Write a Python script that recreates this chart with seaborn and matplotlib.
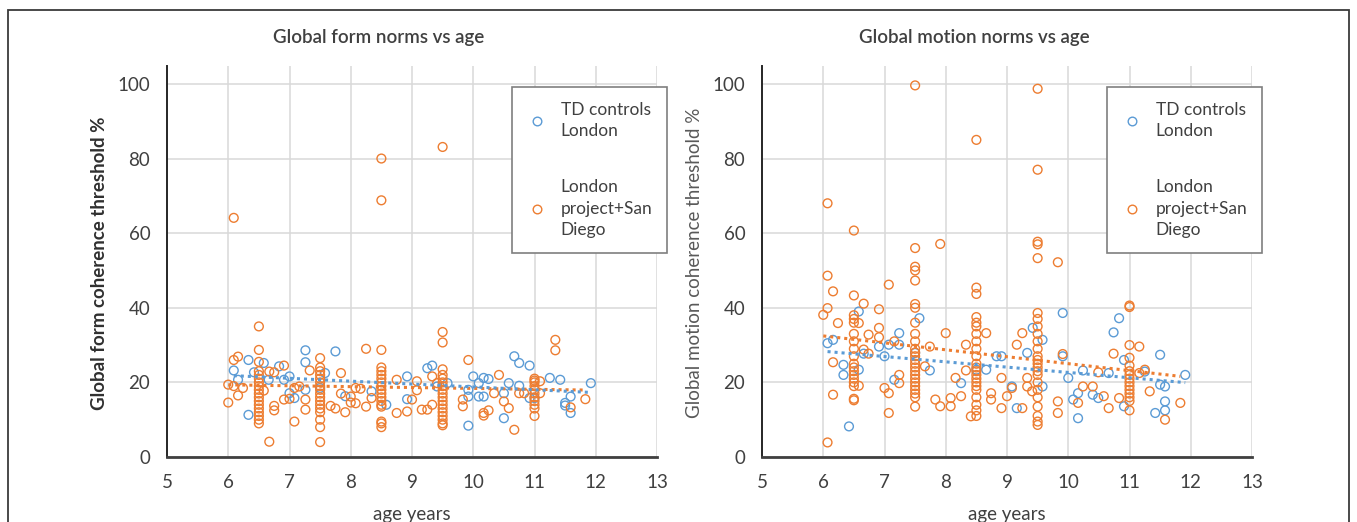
import numpy as np
import pandas as pd
import matplotlib
matplotlib.use("Agg")
import matplotlib.pyplot as plt
from matplotlib.lines import Line2D
from matplotlib.patches import Rectangle
import seaborn as sns

# ---------------- data ----------------
form_td_age = [6.09, 6.16, 6.33, 6.33, 6.42, 6.58, 6.66, 6.83, 6.91, 7.0, 7.0, 7.08, 7.26, 7.26, 7.26,
               7.5, 7.58, 7.75, 7.91, 8.34, 8.58, 8.92, 8.92, 9.25, 9.33, 9.41, 9.58, 9.92, 9.92, 9.92,
               10.0, 10.09, 10.09, 10.17, 10.17, 10.25, 10.5, 10.5, 10.58, 10.67, 10.75, 10.75, 10.92,
               10.92, 11.0, 11.25, 11.42, 11.5, 11.5, 11.59, 11.59, 11.92]
form_td_val = [23.2, 20.7, 26.0, 11.3, 22.7, 25.2, 20.7, 24.3, 20.7, 21.6, 17.1, 15.8, 28.6, 25.4, 18.0,
               18.5, 22.5, 28.3, 16.3, 17.6, 14.0, 21.6, 15.5, 23.8, 24.5, 18.9, 19.8, 8.4, 16.2, 18.0,
               21.6, 16.2, 19.8, 21.2, 16.2, 20.9, 10.4, 17.1, 19.8, 27.0, 25.2, 19.1, 24.5,
               15.8, 15.8, 21.2, 20.7, 14.5, 13.8, 16.2, 11.8, 19.8]

form_ld_age = ([6.09, 8.5, 8.5, 9.5]
               + [6.5] * 18
               + [6.0, 6.09, 6.16, 6.09, 6.16, 6.0, 6.24]
               + [6.67, 6.75, 6.75, 6.67, 6.75, 6.58, 6.91, 6.91, 7.0, 7.08, 7.08, 7.26, 7.26, 7.33, 7.16]
               + [7.5] * 17
               + [7.67, 7.75, 7.84, 7.84, 7.91, 8.0, 8.08, 8.16, 8.25, 8.25, 8.34, 8.0, 8.08]
               + [8.5] * 16
               + [8.75, 8.75, 8.92, 9.0, 9.08, 9.16, 9.25, 9.33, 9.33, 9.41, 9.08]
               + [9.5] * 18
               + [9.83, 9.83, 9.92, 10.17, 10.17, 10.25, 10.34, 10.42, 10.5, 10.58, 10.67, 10.75, 10.83]
               + [11.0] * 11
               + [11.09, 11.09, 11.34, 11.34, 11.59, 11.83])
form_ld_val = ([64.1, 80.0, 68.8, 83.1]
               + [35, 28.7, 25.5, 23, 22, 21, 20, 19, 18, 17, 16, 15, 14, 13, 12, 11, 10, 9]
               + [14.6, 26.0, 26.9, 19.0, 16.5, 19.4, 18.5]
               + [4.1, 13.7, 12.5, 22.9, 22.7, 17.8, 24.5, 15.4, 15.6, 9.5, 18.5, 12.7, 15.4, 23.2, 18.9]
               + [26.5, 24, 23, 22, 21, 20, 19, 18, 17, 16, 15, 14, 13, 12, 10, 8, 4]
               + [13.7, 13.0, 22.5, 17.0, 12.0, 14.6, 18.5, 18.3, 29.0, 13.5, 15.8, 16.2, 14.4]
               + [28.7, 24, 23, 22, 21, 20, 19, 18, 17, 16, 15, 14, 13.5, 9.5, 9, 8]
               + [20.7, 11.8, 12.2, 15.4, 20.3, 12.7, 12.7, 21.6, 14.0, 19.8, 17.9]
               + [33.5, 30.7, 23.5, 22, 21, 20, 19, 18, 17, 16, 15, 14, 13, 12, 11, 10, 9, 8.5]
               + [13.6, 15.4, 26.0, 11.8, 11.1, 12.5, 17.1, 22.0, 14.9, 13.1, 7.3, 17.1, 17.1]
               + [21, 20.5, 20, 19, 18, 17, 16, 15, 14, 13, 11]
               + [17.1, 20.3, 31.4, 28.6, 13.3, 15.5])

motion_td_age = [6.07, 6.16, 6.33, 6.33, 6.42, 6.58, 6.58, 6.66, 6.91, 7.0, 7.07, 7.16, 7.24, 7.24,
                 7.5, 7.57, 7.74, 8.25, 8.5, 8.66, 8.83, 8.91, 9.08, 9.16, 9.33, 9.42, 9.58, 9.58,
                 9.91, 9.91, 10.0, 10.08, 10.16, 10.16, 10.24, 10.4, 10.49, 10.66, 10.74, 10.83,
                 10.91, 10.91, 11.25, 11.5, 11.5, 11.58, 11.58, 11.58, 11.42, 11.91]
motion_td_val = [30.5, 31.4, 24.7, 22.0, 8.2, 39.0, 23.4, 27.7, 29.6, 27.0, 30.1, 20.7, 33.2, 30.1,
                 27.9, 37.2, 23.2, 19.8, 23.4, 23.4, 27.0, 27.0, 18.9, 13.1, 27.9, 34.6, 31.4, 18.9,
                 38.6, 27.0, 21.2, 15.4, 17.1, 10.4, 23.2, 16.7, 15.8, 22.5, 33.4, 37.2,
                 13.6, 26.0, 22.9, 27.4, 19.4, 18.9, 14.9, 12.5, 11.8, 22.0]

motion_ld_age = ([6.0, 6.07, 6.07, 6.07, 6.07, 6.16, 6.16, 6.24, 6.16]
                 + [6.5] * 18
                 + [6.58, 6.58, 6.66, 6.66, 6.74, 6.74, 6.91, 6.91, 6.91, 7.0, 7.07, 7.07, 7.07, 7.16, 7.24, 7.24]
                 + [7.5] * 25
                 + [7.66, 7.74, 7.83, 7.91, 7.91, 8.0, 8.08, 8.08, 8.16, 8.25, 8.33, 8.33, 8.41]
                 + [8.5] * 22
                 + [8.66, 8.74, 8.74, 8.91, 8.91, 9.0, 9.08, 9.16, 9.25, 9.25, 9.33, 9.33, 9.41]
                 + [9.5] * 24
                 + [9.83, 9.83, 9.83, 9.91, 10.16, 10.24, 10.4, 10.49, 10.58, 10.66, 10.74, 10.83]
                 + [11.0] * 15
                 + [11.16, 11.25, 11.33, 11.58, 11.83, 11.16])
motion_ld_val = ([38.1, 68.0, 48.6, 39.9, 3.9, 44.4, 16.7, 35.9, 25.4]
                 + [60.7, 43.3, 38, 37, 36, 33, 31, 29, 27, 25, 24, 23, 22, 21, 20, 19, 15.6, 15.2]
                 + [19.1, 35.9, 41.1, 28.8, 32.8, 27.7, 39.6, 34.6, 32.1, 18.5, 46.2, 11.8, 17.1, 31.0, 22.0, 19.8]
                 + [99.6, 56, 51, 50, 47.3, 41, 40, 36, 33, 31, 29, 28, 27, 26, 25, 24, 23, 22, 21, 20,
                    19, 18, 17, 16, 13.5]
                 + [24.3, 29.6, 15.4, 57.1, 13.6, 33.2, 13.6, 15.8, 21.2, 16.3, 30.1, 23.2, 10.9]
                 + [85, 45.4, 43.7, 37.5, 36, 35, 33, 31, 29, 27, 25, 24, 23, 22, 21, 20, 19, 18, 16, 14, 12.5, 11]
                 + [33.2, 15.4, 17.1, 21.2, 13.1, 16.3, 18.5, 30.1, 33.2, 13.1, 21.2, 18.9, 17.6]
                 + [98.7, 77, 57.7, 57, 53.3, 38.6, 37, 35, 33, 31, 29, 27, 26, 25, 24, 23, 22, 20, 18,
                    16, 13.5, 11, 9.5, 8.6]
                 + [52.2, 14.9, 11.8, 27.6, 14.5, 18.9, 18.9, 22.7, 16.3, 13.1, 27.7, 15.8]
                 + [40.6, 40.2, 30, 26.6, 24.5, 23, 22, 21, 20, 19, 18, 17, 16, 15, 12.5]
                 + [29.6, 23.4, 17.6, 10.0, 14.5, 22.5])

series_labels = ["TD controls\nLondon", "London\nproject+San\nDiego"]
titles = ["Global form norms vs age", "Global motion norms vs age"]
ylabels = ["Global form coherence threshold %", "Global motion coherence threshold %"]
xlabel = "age years"
x_ticks = [5, 6, 7, 8, 9, 10, 11, 12, 13]
y_ticks = [0, 20, 40, 60, 80, 100]

# ---------------- style ----------------
sns.set_theme(style="white")
plt.rcParams["font.family"] = ["Lato", "DejaVu Sans"]

BLUE = "#5B9BD5"
ORANGE = "#ED7D31"
TXT = "#404040"

W, H = 1357, 522
fig = plt.figure(figsize=(W / 100, H / 100), dpi=100)


def fx(px):
    return px / W


def fy(py):
    return 1 - py / H


panels = [
    (167, form_td_age, form_td_val, form_ld_age, form_ld_val),
    (762, motion_td_age, motion_td_val, motion_ld_age, motion_ld_val),
]

for i, (x0, td_a, td_v, ld_a, ld_v) in enumerate(panels):
    ax = fig.add_axes([fx(x0), fy(457), 490 / W, 391 / H])
    td = pd.DataFrame({"age": td_a, "val": td_v})
    ld = pd.DataFrame({"age": ld_a, "val": ld_v})

    sns.scatterplot(data=td, x="age", y="val", ax=ax, marker="o", s=40,
                    facecolor="none", edgecolor=BLUE, linewidth=1.0, zorder=3)
    sns.scatterplot(data=ld, x="age", y="val", ax=ax, marker="o", s=40,
                    facecolor="none", edgecolor=ORANGE, linewidth=1.0, zorder=3)
    sns.regplot(data=ld, x="age", y="val", ax=ax, scatter=False, ci=None,
                color=ORANGE, line_kws=dict(ls=(0, (1, 1.3)), lw=2.2, zorder=4))
    sns.regplot(data=td, x="age", y="val", ax=ax, scatter=False, ci=None,
                color=BLUE, line_kws=dict(ls=(0, (1, 1.3)), lw=2.2, zorder=5))

    ax.set_xlim(5, 13)
    ax.set_ylim(0, 104.8)
    ax.set_xticks(x_ticks)
    ax.set_yticks(y_ticks)
    ax.grid(True, color="#D9D9D9", lw=1.1, zorder=0)
    ax.set_axisbelow(True)
    for s in ["top", "right"]:
        ax.spines[s].set_visible(False)
    ax.spines["left"].set_color("#262626")
    ax.spines["left"].set_linewidth(1.4)
    ax.spines["bottom"].set_color("#404040")
    ax.spines["bottom"].set_linewidth(2.0)
    ax.tick_params(length=0, pad=12, labelsize=13.5, colors=TXT)

    ax.set_xlabel(xlabel, fontsize=13.5, color=TXT)
    ax.xaxis.set_label_coords(0.5, -0.146)
    ax.xaxis.label.set_va("center")
    if i == 0:
        ax.set_ylabel(ylabels[i], fontsize=13.5, color="#303030", fontweight="bold")
    else:
        ax.set_ylabel(ylabels[i], fontsize=13.5, color="#595959")
    ax.yaxis.set_label_coords(-0.137, 0.496)
    ax.yaxis.label.set_va("center")

    fig.text(fx(x0 + 212), fy(38), titles[i], ha="center", va="center",
             fontsize=13.5, fontweight="semibold", color=TXT)

    handles = [Line2D([], [], ls="none", marker="o", ms=6.2, mfc="none", mec=BLUE, mew=1.0),
               Line2D([], [], ls="none", marker="o", ms=6.2, mfc="none", mec=ORANGE, mew=1.0)]
    leg = ax.legend(handles, series_labels, loc="upper left",
                    bbox_to_anchor=(fx(x0 + 345), fy(87)), bbox_transform=fig.transFigure,
                    fontsize=12.5, frameon=True, fancybox=False, edgecolor="#7F7F7F",
                    framealpha=1, borderpad=0.85, labelspacing=2.3, handletextpad=0.75,
                    handlelength=1.2, borderaxespad=0)
    leg.get_frame().set_linewidth(1.2)
    for t in leg.get_texts():
        t.set_color(TXT)
        t.set_linespacing(1.42)

# outer frame
fig.patches.append(Rectangle((fx(8), -0.1), fx(1349) - fx(8), fy(10) + 0.1,
                             transform=fig.transFigure, fill=False,
                             edgecolor="#3A3A3A", lw=1.3))

fig.savefig("out.png", dpi=100)
